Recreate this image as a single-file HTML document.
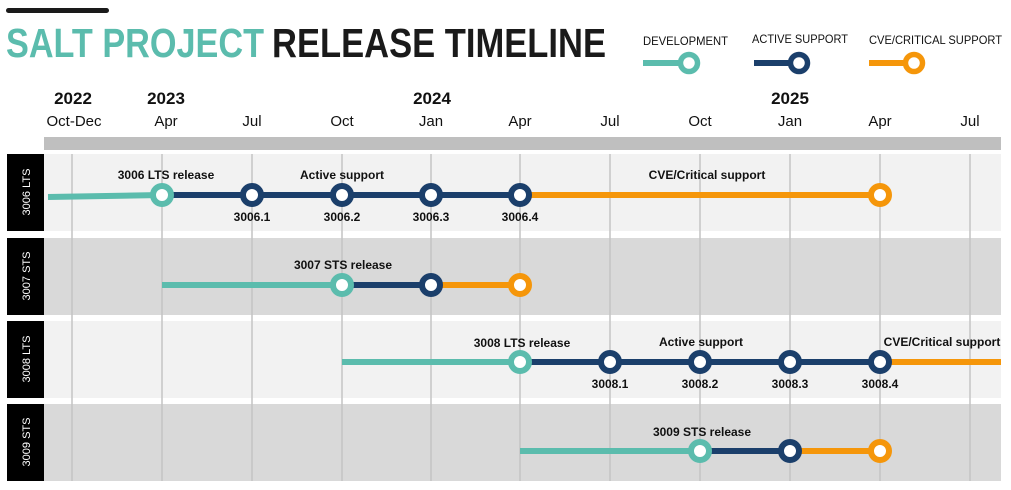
<!DOCTYPE html>
<html><head><meta charset="utf-8"><style>
html,body{margin:0;padding:0;background:#fff;}
svg{display:block;font-family:"Liberation Sans",sans-serif;}
</style></head><body>
<svg width="1011" height="490" viewBox="0 0 1011 490" xmlns="http://www.w3.org/2000/svg">
<rect x="6" y="8" width="103" height="5" rx="2.5" fill="#1a1a1a"/>
<text x="6" y="57" font-size="41" font-weight="bold" fill="#5bbcad" textLength="258" lengthAdjust="spacingAndGlyphs">SALT PROJECT</text>
<text x="272" y="57" font-size="41" font-weight="bold" fill="#1a1a1a" textLength="334" lengthAdjust="spacingAndGlyphs">RELEASE TIMELINE</text>
<!-- legend -->
<g font-size="12" fill="#111">
<text x="643" y="45" textLength="85" lengthAdjust="spacingAndGlyphs">DEVELOPMENT</text>
<text x="752" y="43" textLength="96" lengthAdjust="spacingAndGlyphs">ACTIVE SUPPORT</text>
<text x="869" y="44" textLength="133" lengthAdjust="spacingAndGlyphs">CVE/CRITICAL SUPPORT</text>
</g>
<g stroke-width="6" fill="#fff">
<line x1="643" y1="63" x2="688" y2="63" stroke="#5bbcad"/><circle cx="689" cy="63" r="8.5" stroke="#5bbcad" stroke-width="5.5"/>
<line x1="754" y1="63" x2="798" y2="63" stroke="#1b3f6b"/><circle cx="799" cy="63" r="8.5" stroke="#1b3f6b" stroke-width="5.5"/>
<line x1="869" y1="63" x2="913" y2="63" stroke="#f5960a"/><circle cx="914" cy="63" r="8.5" stroke="#f5960a" stroke-width="5.5"/>
</g>
<!-- axis labels -->
<g font-size="17" font-weight="bold" fill="#111" text-anchor="middle">
<text x="73" y="104">2022</text><text x="166" y="104">2023</text><text x="432" y="104">2024</text><text x="790" y="104">2025</text>
</g>
<g font-size="15" fill="#111" text-anchor="middle">
<text x="74" y="126">Oct-Dec</text><text x="166" y="126">Apr</text><text x="252" y="126">Jul</text><text x="342" y="126">Oct</text><text x="431" y="126">Jan</text><text x="520" y="126">Apr</text><text x="610" y="126">Jul</text><text x="700" y="126">Oct</text><text x="790" y="126">Jan</text><text x="880" y="126">Apr</text><text x="970" y="126">Jul</text>
</g>
<rect x="44" y="137" width="957" height="13" fill="#bfbfbf"/>
<!-- rows -->
<rect x="44" y="154" width="957" height="77" fill="#f2f2f2"/>
<rect x="44" y="238" width="957" height="77" fill="#d9d9d9"/>
<rect x="44" y="321" width="957" height="77" fill="#f2f2f2"/>
<rect x="44" y="404" width="957" height="77" fill="#d9d9d9"/>
<g fill="#000"><rect x="7" y="154" width="37" height="77"/><rect x="7" y="238" width="37" height="77"/><rect x="7" y="321" width="37" height="77"/><rect x="7" y="404" width="37" height="77"/></g>
<g font-size="11" fill="#fff" text-anchor="middle">
<text transform="translate(30,192) rotate(-90)">3006 LTS</text>
<text transform="translate(30,276) rotate(-90)">3007 STS</text>
<text transform="translate(30,359) rotate(-90)">3008 LTS</text>
<text transform="translate(30,442) rotate(-90)">3009 STS</text>
</g>
<g stroke="#c4c4c4" stroke-width="1.5">
<line x1="72" y1="154" x2="72" y2="481"/><line x1="162" y1="154" x2="162" y2="481"/><line x1="252" y1="154" x2="252" y2="481"/><line x1="342" y1="154" x2="342" y2="481"/><line x1="431" y1="154" x2="431" y2="481"/><line x1="520" y1="154" x2="520" y2="481"/><line x1="610" y1="154" x2="610" y2="481"/><line x1="700" y1="154" x2="700" y2="481"/><line x1="790" y1="154" x2="790" y2="481"/><line x1="880" y1="154" x2="880" y2="481"/><line x1="970" y1="154" x2="970" y2="481"/>
</g>
<!-- lines -->
<g stroke-width="6">
<line x1="48" y1="197" x2="162" y2="195" stroke="#5bbcad"/>
<line x1="162" y1="195" x2="520" y2="195" stroke="#1b3f6b"/>
<line x1="520" y1="195" x2="880" y2="195" stroke="#f5960a"/>
<line x1="162" y1="285" x2="342" y2="285" stroke="#5bbcad"/>
<line x1="342" y1="285" x2="431" y2="285" stroke="#1b3f6b"/>
<line x1="431" y1="285" x2="520" y2="285" stroke="#f5960a"/>
<line x1="342" y1="362" x2="520" y2="362" stroke="#5bbcad"/>
<line x1="520" y1="362" x2="880" y2="362" stroke="#1b3f6b"/>
<line x1="880" y1="362" x2="1001" y2="362" stroke="#f5960a"/>
<line x1="520" y1="451" x2="700" y2="451" stroke="#5bbcad"/>
<line x1="700" y1="451" x2="790" y2="451" stroke="#1b3f6b"/>
<line x1="790" y1="451" x2="880" y2="451" stroke="#f5960a"/>
</g>
<g fill="#fff" stroke-width="6">
<circle cx="162" cy="195" r="9" stroke="#5bbcad"/>
<circle cx="252" cy="195" r="9" stroke="#1b3f6b"/><circle cx="342" cy="195" r="9" stroke="#1b3f6b"/><circle cx="431" cy="195" r="9" stroke="#1b3f6b"/><circle cx="520" cy="195" r="9" stroke="#1b3f6b"/>
<circle cx="880" cy="195" r="9" stroke="#f5960a"/>
<circle cx="342" cy="285" r="9" stroke="#5bbcad"/><circle cx="431" cy="285" r="9" stroke="#1b3f6b"/><circle cx="520" cy="285" r="9" stroke="#f5960a"/>
<circle cx="520" cy="362" r="9" stroke="#5bbcad"/>
<circle cx="610" cy="362" r="9" stroke="#1b3f6b"/><circle cx="700" cy="362" r="9" stroke="#1b3f6b"/><circle cx="790" cy="362" r="9" stroke="#1b3f6b"/><circle cx="880" cy="362" r="9" stroke="#1b3f6b"/>
<circle cx="700" cy="451" r="9" stroke="#5bbcad"/><circle cx="790" cy="451" r="9" stroke="#1b3f6b"/><circle cx="880" cy="451" r="9" stroke="#f5960a"/>
</g>
<g font-size="12" font-weight="bold" fill="#111" text-anchor="middle">
<text x="166" y="179">3006 LTS release</text>
<text x="342" y="179">Active support</text>
<text x="707" y="179">CVE/Critical support</text>
<text x="252" y="221">3006.1</text><text x="342" y="221">3006.2</text><text x="431" y="221">3006.3</text><text x="520" y="221">3006.4</text>
<text x="343" y="269">3007 STS release</text>
<text x="522" y="347">3008 LTS release</text>
<text x="701" y="346">Active support</text>
<text x="942" y="346">CVE/Critical support</text>
<text x="610" y="388">3008.1</text><text x="700" y="388">3008.2</text><text x="790" y="388">3008.3</text><text x="880" y="388">3008.4</text>
<text x="702" y="436">3009 STS release</text>
</g>
</svg>
</body></html>
